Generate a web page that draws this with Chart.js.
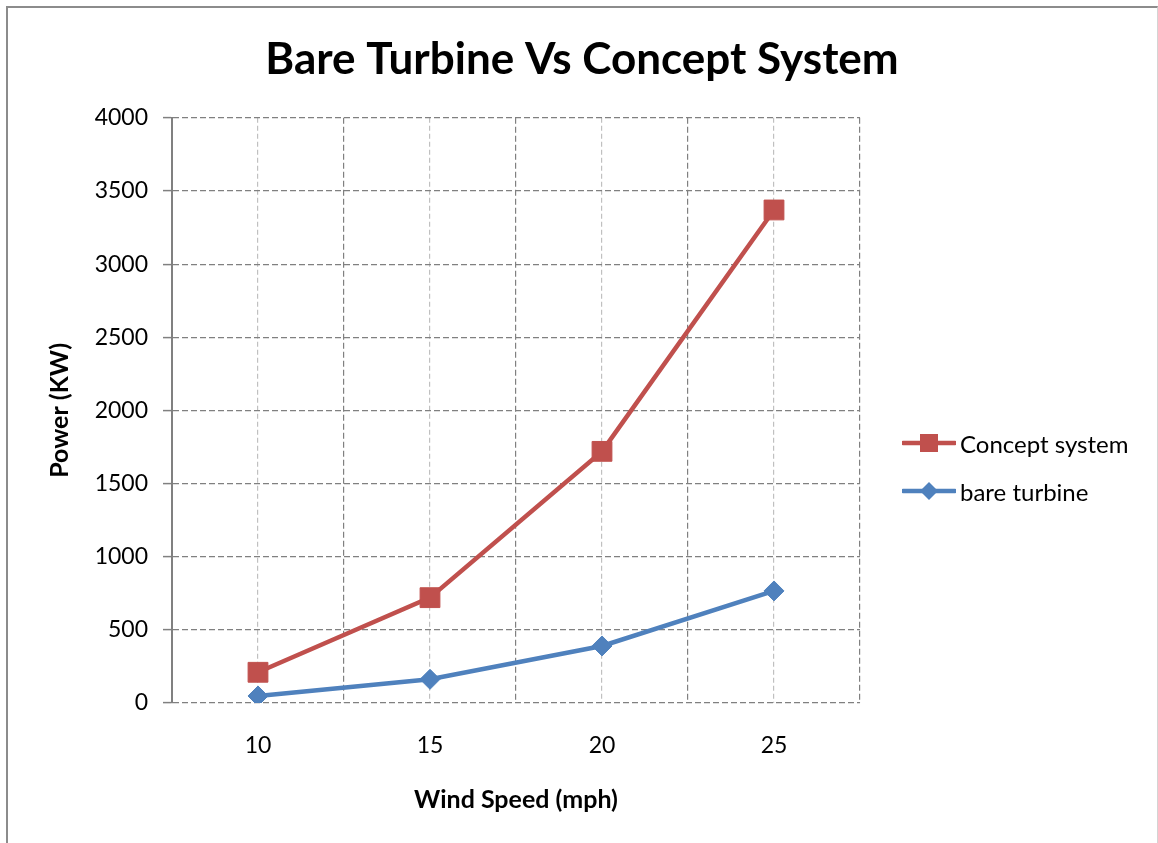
<!DOCTYPE html>
<html>
<head>
<meta charset="utf-8">
<title>Bare Turbine Vs Concept System</title>
<script src="https://cdn.jsdelivr.net/npm/chart.js@4.4.1/dist/chart.umd.min.js"></script>
<style>
  html, body { margin: 0; padding: 0; background: #fff; overflow: hidden; }
  #frame {
    position: absolute; left: 6px; top: 6px; width: 1152px; height: 900px;
    box-sizing: border-box;
    border-left: 2px solid #8c8c8c; border-top: 2px solid #8c8c8c; border-right: 1px solid #d4d4d4;
  }
  #wrap { position: absolute; left: 0; top: 0; width: 1158px; height: 843px; }
  #legend { position: absolute; left: 902px; top: 0; font-family: Lato, sans-serif; font-size: 24px; color: #000; }
  #legend .item { position: absolute; left: 0; height: 26px; display: flex; align-items: center; white-space: nowrap; }
  #legend svg { display: block; margin-right: 4px; }
</style>
</head>
<body>
<div id="frame"></div>
<div id="wrap"><canvas id="chart" width="1158" height="843"></canvas></div>
<div id="legend"></div>
<script>
// Wind speed categories (mph)
const windSpeeds = ['10', '15', '20', '25'];
// Power output (KW) for each configuration
const conceptSystem = [210, 720, 1720, 3370];
const bareTurbine = [48, 162, 390, 766];
// Power axis tick values
const powerTicks = [0, 500, 1000, 1500, 2000, 2500, 3000, 3500, 4000];

const RED = '#C0504D';
const BLUE = '#4F81BD';
const GRID_DARK = '#808080';
const GRID_LIGHT = '#c0c0c0';

Chart.defaults.font.family = 'Lato, sans-serif';
Chart.defaults.color = '#000';

const series = [
  { label: 'Concept system', data: conceptSystem, color: RED, pointStyle: 'rect', pointRadius: 14 },
  { label: 'bare turbine', data: bareTurbine, color: BLUE, pointStyle: 'rectRot', pointRadius: 10 }
];

new Chart(document.getElementById('chart'), {
  type: 'line',
  data: {
    labels: windSpeeds,
    datasets: series.map(s => ({
      label: s.label,
      data: s.data,
      borderColor: s.color,
      backgroundColor: s.color,
      borderWidth: 4.5,
      pointStyle: s.pointStyle,
      pointRadius: s.pointRadius,
      pointBorderWidth: 1,
      pointBorderColor: s.color,
      pointBackgroundColor: s.color,
      tension: 0,
      xAxisID: 'x',
      yAxisID: 'y'
    }))
  },
  options: {
    responsive: false,
    animation: false,
    events: [],
    layout: { padding: { left: 6, right: 0, top: 0, bottom: 0 } },
    plugins: {
      legend: { display: false },
      tooltip: { enabled: false },
      title: {
        display: true,
        text: 'Bare Turbine Vs Concept System',
        font: { size: 44, weight: 'bold' },
        color: '#000',
        padding: { top: 33, bottom: 32 }
      }
    },
    scales: {
      x: {
        type: 'category',
        position: 'bottom',
        offset: true,
        grid: { offset: true, color: GRID_DARK, lineWidth: 1.2, drawTicks: false },
        border: { display: false, dash: [6, 3] },
        ticks: { font: { size: 23 }, padding: 29, maxRotation: 0 },
        title: { display: true, text: 'Wind Speed (mph)', font: { size: 25, weight: 'bold' }, padding: 28 },
        afterFit: s => { s.height = 140; }
      },
      xc: {
        type: 'category',
        position: 'bottom',
        offset: true,
        grid: { offset: false, color: GRID_LIGHT, lineWidth: 1.2, drawTicks: false },
        border: { display: false, dash: [5, 3] },
        ticks: { display: false },
        afterFit: s => { s.height = 0; }
      },
      y: {
        type: 'linear',
        position: 'left',
        min: 0,
        max: 4000,
        afterBuildTicks: s => { s.ticks = powerTicks.map(v => ({ value: v })); },
        grid: { color: GRID_DARK, lineWidth: 1.2, tickLength: 9, tickColor: GRID_DARK, tickWidth: 1.5 },
        border: { display: true, color: GRID_DARK, width: 2, dash: [6, 3] },
        ticks: { font: { size: 23 }, padding: 15, callback: v => String(v) },
        title: { display: true, text: 'Power (KW)', font: { size: 25, weight: 'bold' }, padding: 39 },
        afterFit: s => { s.width = 166; }
      },
      side: {
        type: 'linear',
        position: 'right',
        display: true,
        grid: { display: false, drawTicks: false },
        border: { display: false },
        ticks: { display: false },
        afterFit: s => { s.width = 298; }
      }
    }
  }
});

// Legend: line sample with marker, then the series name
const legend = document.getElementById('legend');
const legendCenters = [443, 491];
series.forEach((s, i) => {
  const item = document.createElement('div');
  item.className = 'item';
  item.style.top = (legendCenters[i] - 13) + 'px';
  const ns = 'http://www.w3.org/2000/svg';
  const svg = document.createElementNS(ns, 'svg');
  svg.setAttribute('width', '54');
  svg.setAttribute('height', '26');
  const line = document.createElementNS(ns, 'line');
  line.setAttribute('x1', '1'); line.setAttribute('y1', '13');
  line.setAttribute('x2', '53'); line.setAttribute('y2', '13');
  line.setAttribute('stroke', s.color); line.setAttribute('stroke-width', '4.5');
  line.setAttribute('stroke-linecap', 'round');
  svg.appendChild(line);
  let marker;
  if (s.pointStyle === 'rect') {
    marker = document.createElementNS(ns, 'rect');
    marker.setAttribute('x', '18'); marker.setAttribute('y', '4');
    marker.setAttribute('width', '18'); marker.setAttribute('height', '18');
  } else {
    marker = document.createElementNS(ns, 'polygon');
    marker.setAttribute('points', '27,4 36,13 27,22 18,13');
  }
  marker.setAttribute('fill', s.color);
  svg.appendChild(marker);
  item.appendChild(svg);
  const text = document.createElement('span');
  text.textContent = s.label;
  item.appendChild(text);
  legend.appendChild(item);
});
</script>
</body>
</html>
